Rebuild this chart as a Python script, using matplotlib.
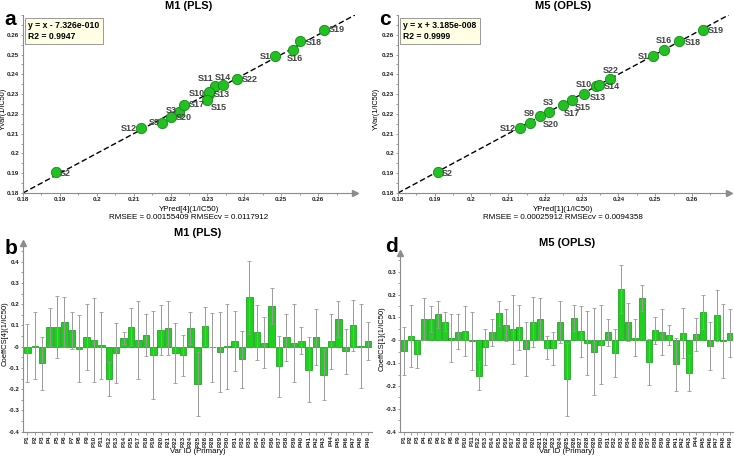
import numpy as np
import matplotlib.pyplot as plt
from matplotlib.ticker import AutoMinorLocator, FuncFormatter

plt.rcParams['font.family'] = ['Liberation Sans', 'DejaVu Sans']
plt.rcParams['font.weight'] = 'bold'

# --- observed vs predicted (a: M1 PLS, c: M5 OPLS) ---
names_a = ["S1", "S2", "S3", "S9", "S10", "S11", "S12", "S13", "S14", "S15",
           "S16", "S17", "S18", "S19", "S20", "S22"]
pred_a = [0.2484, 0.1890, 0.2223, 0.2178, 0.2303, 0.2320, 0.2120, 0.2305,
          0.2343, 0.2300, 0.2533, 0.2236, 0.2552, 0.2616, 0.2200, 0.2380]
obs_a = [0.2492, 0.1906, 0.2212, 0.2156, 0.2303, 0.2341, 0.2128, 0.2311,
         0.2345, 0.2271, 0.2523, 0.2247, 0.2568, 0.2625, 0.2186, 0.2377]

names_c = ["S1", "S2", "S3", "S9", "S10", "S12", "S13", "S14", "S15",
           "S16", "S17", "S18", "S19", "S20", "S22"]
pred_c = [0.2494, 0.1908, 0.2210, 0.2160, 0.2338, 0.2131, 0.2305, 0.2347,
          0.2273, 0.2525, 0.2248, 0.2566, 0.2630, 0.2187, 0.2378]
obs_c = [0.2491, 0.1905, 0.2212, 0.2156, 0.2339, 0.2128, 0.2300, 0.2346,
         0.2272, 0.2523, 0.2245, 0.2568, 0.2622, 0.2187, 0.2374]

# --- coefficients (b: M1 PLS, d: M5 OPLS) ---
vars_b = ["P%d" % i for i in range(1, 50) if i not in (16, 27)]
coef_b = [-0.030, 0.005, -0.078, 0.093, 0.093, 0.115, 0.078, -0.010, 0.045, 0.030,
          0.007, -0.152, -0.030, 0.040, 0.095, 0.032, 0.055, -0.040, 0.078, 0.088,
          -0.030, -0.040, 0.087, -0.176, 0.099, -0.002, -0.025, 0.002, 0.027, -0.060,
          0.232, 0.067, 0.018, 0.192, -0.092, 0.044, 0.018, 0.028, -0.108, 0.045,
          -0.132, 0.025, 0.130, -0.022, 0.100, 0.003, 0.028]
err_b = [0.136, 0.158, 0.125, 0.088, 0.147, 0.118, 0.087, 0.157, 0.157, 0.197,
         0.157, 0.080, 0.140, 0.028, 0.087, 0.185, 0.101, 0.206, 0.117, 0.125,
         0.143, 0.097, 0.076, 0.150, 0.089, 0.162, 0.186, 0.200, 0.140, 0.133,
         0.172, 0.130, 0.120, 0.084, 0.143, 0.112, 0.184, 0.063, 0.152, 0.133,
         0.121, 0.129, 0.083, 0.106, 0.121, 0.197, 0.090]

vars_d = ["P%d" % i for i in range(1, 50)]
coef_d = [-0.045, 0.018, -0.062, 0.093, 0.093, 0.113, 0.082, 0.012, 0.038, 0.040,
          -0.003, -0.155, -0.030, 0.035, 0.118, 0.068, 0.048, 0.056, -0.038, 0.080,
          0.093, -0.032, -0.035, 0.080, -0.171, 0.097, 0.040, -0.010, -0.050, -0.020,
          0.035, -0.055, 0.226, 0.080, 0.012, 0.185, -0.095, 0.043, 0.035, 0.025,
          -0.105, 0.033, -0.143, 0.027, 0.125, -0.025, 0.110, -0.003, 0.033]
err_d = [0.105, 0.137, 0.058, 0.090, 0.055, 0.058, 0.040, 0.105, 0.077, 0.110,
         0.128, 0.064, 0.078, 0.058, 0.056, 0.070, 0.152, 0.100, 0.120, 0.111,
         0.090, 0.050, 0.072, 0.090, 0.160, 0.056, 0.112, 0.140, 0.190, 0.173,
         0.058, 0.106, 0.105, 0.085, 0.079, 0.055, 0.100, 0.060, 0.100, 0.044,
         0.117, 0.110, 0.080, 0.072, 0.075, 0.103, 0.112, 0.161, 0.105]

# label placement (pixel offsets, horizontal alignment)
lab_a = {"S1": (-4, 0, "right"), "S2": (4, -1, "left"), "S3": (-2, 1, "right"),
         "S9": (-3, 0, "right"), "S10": (-4, 0, "right"), "S11": (-1, 7, "right"),
         "S12": (-4, 0, "right"), "S13": (5, -3, "left"), "S14": (0, 8, "center"),
         "S15": (3, -8, "left"), "S16": (2, -9, "center"), "S17": (5, 0, "left"),
         "S18": (5, -1, "left"), "S19": (5, 0, "left"), "S20": (5, -1, "left"),
         "S22": (5, -1, "left")}
lab_c = {"S1": (-4, 0, "right"), "S2": (4, -1, "left"), "S3": (0, 9, "center"),
         "S9": (-1, 9, "center"), "S10": (-4, 2, "right"), "S12": (-4, 0, "right"),
         "S13": (6, -3, "left"), "S14": (5, -1, "left"), "S15": (3, -8, "left"),
         "S16": (0, 9, "center"), "S17": (1, -9, "left"), "S18": (5, -1, "left"),
         "S19": (5, 0, "left"), "S20": (3, -8, "left"), "S22": (0, 9, "center")}

GRAY = "#8c8c8c"
fig = plt.figure(figsize=(7.34, 4.57), dpi=100)


def style_axes(ax):
    for s in ("top", "right"):
        ax.spines[s].set_visible(False)
    for s in ("left", "bottom"):
        ax.spines[s].set_color(GRAY)
        ax.spines[s].set_linewidth(0.8)
    ax.tick_params(which="both", colors=GRAY, labelcolor="#222222", labelsize=4.5,
                   length=1.8, width=0.6, pad=0.8)
    ax.tick_params(which="minor", length=1.2)
    ax.yaxis.set_minor_locator(AutoMinorLocator(2))


fmt = FuncFormatter(lambda v, p: "%g" % round(v, 3))


def scatter_panel(rect, pred, obs, names, labs, title, letter, eq, r2, xlab, rmse,
                  ylab_x, let_x):
    ax = fig.add_axes(rect)
    style_axes(ax)
    ax.set_xlim(0.18, 0.27)
    ax.set_ylim(0.18, 0.27)
    ticks = np.arange(0.18, 0.2601, 0.01)
    ax.set_xticks(ticks)
    ax.set_yticks(ticks)
    ax.xaxis.set_major_formatter(fmt)
    ax.yaxis.set_major_formatter(fmt)
    ax.xaxis.set_minor_locator(AutoMinorLocator(2))
    ax.plot([0.18, 0.27], [0.18, 0.27], ls=(0, (4, 2)), color="black", lw=1, zorder=1)
    ax.scatter(pred, obs, s=55, color="#22c022", edgecolor="#168a16", lw=0.6, zorder=3)
    for n, x, y in zip(names, pred, obs):
        dx, dy, ha = labs[n]
        ax.annotate(n, (x, y), xytext=(dx, dy), textcoords="offset pixels",
                    ha=ha, va="center", fontsize=6.5, color="#444444")
    ax.plot(1, 0, ">", transform=ax.transAxes, clip_on=False, color=GRAY, ms=5)
    ax.set_title(title, fontsize=8, fontweight="bold", pad=4)
    ax.text(let_x, 0.975, letter, transform=ax.transAxes, fontsize=15,
            fontweight="bold", ha="right", va="center")
    ax.text(0.016, 0.965, eq + "\n" + r2, transform=ax.transAxes, fontsize=6.2,
            va="top", ha="left", linespacing=1.2,
            bbox=dict(boxstyle="square,pad=0.35", fc="#ffffe6", ec="#999999", lw=0.7))
    ax.set_xlabel(xlab + "\n" + rmse, fontsize=5.8, linespacing=1.25)
    ax.xaxis.set_label_coords(0.5, -0.115)
    ax.xaxis.label.set_va("center")
    ax.set_ylabel("YVar(1/IC50)", fontsize=5.3)
    ax.yaxis.set_label_coords(ylab_x, 0.47)
    ax.yaxis.label.set_va("center")
    return ax


def bar_panel(rect, names, coef, err, ylim, yticks, xlim, title, letter, ylab,
              ylab_x, xlab_y, let_xy):
    ax = fig.add_axes(rect)
    style_axes(ax)
    x = np.arange(len(names))
    ax.bar(x, coef, width=0.88, color="#1fd01f", edgecolor="#119511", lw=0.5, zorder=2)
    ax.errorbar(x, coef, yerr=err, fmt="none", ecolor="#9a9a9a", elinewidth=0.7,
                capsize=1.3, capthick=0.6, zorder=3)
    ax.set_xticks(x)
    ax.set_xticklabels(names, rotation=90, fontsize=4.5)
    ax.tick_params(axis="x", pad=1)
    ax.set_xlim(*xlim)
    ax.set_ylim(*ylim)
    ax.set_yticks(yticks)
    ax.yaxis.set_major_formatter(fmt)
    ax.plot(0, 1, "^", transform=ax.transAxes, clip_on=False, color=GRAY, ms=5)
    ax.set_title(title, fontsize=8, fontweight="bold", pad=5)
    ax.text(let_xy[0], let_xy[1], letter, transform=ax.transAxes, fontsize=15,
            fontweight="bold", ha="right", va="center")
    ax.set_xlabel("Var ID (Primary)", fontsize=5.6)
    ax.xaxis.set_label_coords(0.5, xlab_y)
    ax.xaxis.label.set_va("center")
    ax.set_ylabel(ylab, fontsize=5.5)
    ax.yaxis.set_label_coords(ylab_x, 0.52)
    ax.yaxis.label.set_va("center")
    return ax


scatter_panel([0.0313, 0.5777, 0.4523, 0.3895], pred_a, obs_a, names_a, lab_a,
              "M1 (PLS)", "a", "y = x - 7.326e-010", "R2 = 0.9947",
              "YPred[4](1/IC50)", "RMSEE = 0.00155409 RMSEcv = 0.0117912",
              -0.058, -0.021)
scatter_panel([0.5422, 0.5777, 0.4505, 0.3895], pred_c, obs_c, names_c, lab_c,
              "M5 (OPLS)", "c", "y = x + 3.185e-008", "R2 = 0.9999",
              "YPred[1](1/IC50)", "RMSEE = 0.00025912 RMSEcv = 0.0094358",
              -0.065, -0.021)

bar_panel([0.0318, 0.0554, 0.4755, 0.4122], vars_b, coef_b, err_b, (-0.4, 0.4866),
          np.arange(-0.4, 0.401, 0.1), (-0.55, 46.6), "M1 (PLS)", "b",
          "CoeffCS[4](1/IC50)", -0.052, -0.106, (-0.018, 0.975))
bar_panel([0.5454, 0.0554, 0.4535, 0.391], vars_d, coef_d, err_d, (-0.4, 0.382),
          np.arange(-0.4, 0.301, 0.1), (-0.5, 48.45), "M5 (OPLS)", "d",
          "CoeffCS[1](1/IC50)", -0.056, -0.113, (-0.007, 1.034))

fig.savefig("out.png", dpi=100)
